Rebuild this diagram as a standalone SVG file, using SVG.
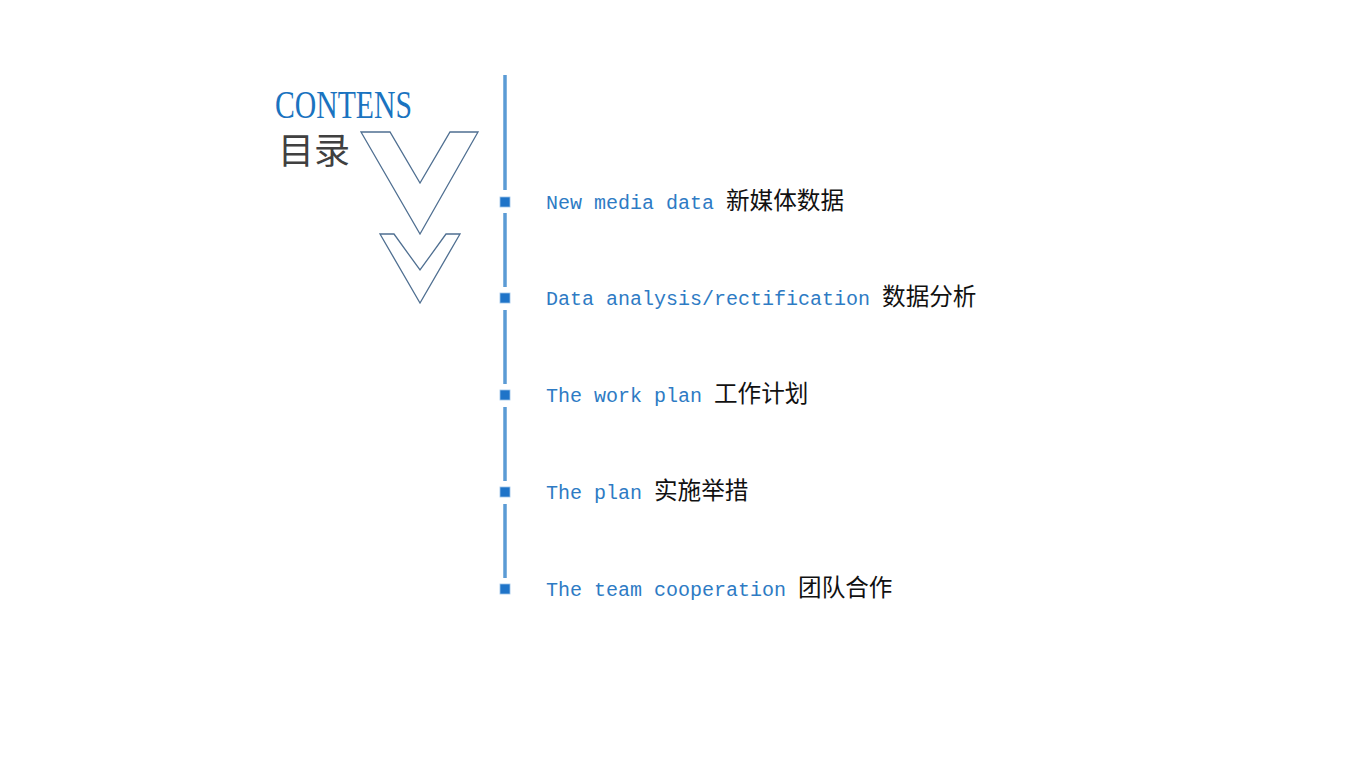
<svg xmlns="http://www.w3.org/2000/svg" width="1349" height="759" viewBox="0 0 1349 759">
<style>
.bg{fill:#ffffff}
.chev{fill:#ffffff;stroke:#4f6f91;stroke-width:1.3;stroke-linejoin:miter}
.seg{stroke:#5b9bd5;stroke-width:3.5;fill:none}
.sq{fill:#1f74c8;stroke:#9cc3e8;stroke-width:0.8}
.en{font-family:"Liberation Mono","DejaVu Sans Mono",monospace;font-size:20px;fill:#2e7bc4}
.zh{font-family:"Noto Sans CJK SC","Noto Sans CJK JP",sans-serif;font-size:23.6px;fill:#111111}
.title{font-family:"Liberation Serif","DejaVu Serif",serif;font-size:40px;fill:#1a73c0}
.sub{font-family:"Noto Sans CJK SC",sans-serif;font-size:36px;fill:#404040}
</style>
<rect class="bg" x="0" y="0" width="1349" height="759"/>
<g id="title">
<text class="title" x="275" y="118" textLength="137" lengthAdjust="spacingAndGlyphs">CONTENS</text>
<text class="sub" x="278" y="164">目录</text>
</g>
<g id="chevrons">
<polygon class="chev" points="361,132 390,132 420,183 450,132 478,132 420,234"/>
<polygon class="chev" points="380,234 394,234 420,270 446,234 460,234 420,303"/>
</g>
<g id="connectors">
<line class="seg" x1="505" y1="75" x2="505" y2="190"/>
<line class="seg" x1="505" y1="213" x2="505" y2="287"/>
<line class="seg" x1="505" y1="310" x2="505" y2="384"/>
<line class="seg" x1="505" y1="407" x2="505" y2="481"/>
<line class="seg" x1="505" y1="504" x2="505" y2="578"/>
</g>
<g id="item1">
<rect class="sq" x="500" y="197" width="10" height="10"/>
<text x="546" y="209"><tspan class="en">New media data </tspan><tspan class="zh">新媒体数据</tspan></text>
</g>
<g id="item2">
<rect class="sq" x="500" y="293" width="10" height="10"/>
<text x="546" y="305"><tspan class="en">Data analysis/rectification </tspan><tspan class="zh">数据分析</tspan></text>
</g>
<g id="item3">
<rect class="sq" x="500" y="390" width="10" height="10"/>
<text x="546" y="402"><tspan class="en">The work plan </tspan><tspan class="zh">工作计划</tspan></text>
</g>
<g id="item4">
<rect class="sq" x="500" y="487" width="10" height="10"/>
<text x="546" y="499"><tspan class="en">The plan </tspan><tspan class="zh">实施举措</tspan></text>
</g>
<g id="item5">
<rect class="sq" x="500" y="584" width="10" height="10"/>
<text x="546" y="596"><tspan class="en">The team cooperation </tspan><tspan class="zh">团队合作</tspan></text>
</g>
</svg>
